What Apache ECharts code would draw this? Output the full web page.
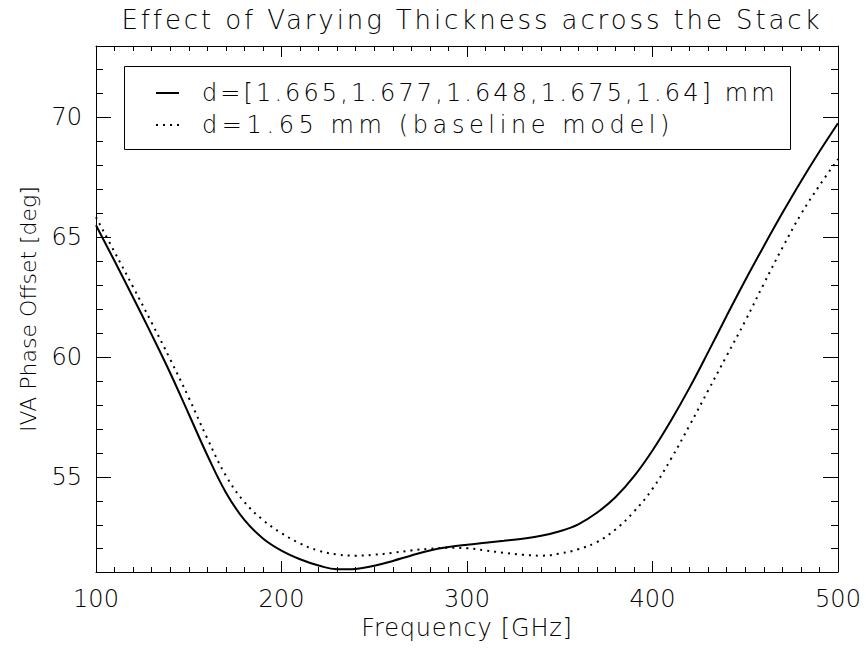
<!DOCTYPE html>
<html>
<head>
<meta charset="utf-8">
<script src="https://cdn.jsdelivr.net/npm/echarts@6/dist/echarts.min.js"></script>
<style>
html,body{margin:0;padding:0;background:#fff;}
#c{width:866px;height:652px;}
</style>
</head>
<body>
<div id="c"></div>
<script>
// ---- data ----
const titleText = 'Effect of Varying Thickness across the Stack';
const xName = 'Frequency [GHz]';
const yName = 'IVA Phase Offset [deg]';
const seriesNames = ['d=[1.665,1.677,1.648,1.675,1.64] mm', 'd=1.65 mm (baseline model)'];
const freq = [100,110,120,130,140,150,160,170,180,190,200,210,220,230,240,250,260,270,280,290,300,
              310,320,330,340,350,360,370,380,390,400,410,420,430,440,450,460,470,480,490,500];
const variedThickness = [65.49,64.0,62.48,60.93,59.33,57.62,55.9,54.35,53.2,52.43,51.92,51.56,51.3,51.14,51.16,51.29,51.49,51.72,51.93,52.07,52.17,
                         52.25,52.33,52.42,52.54,52.73,53.02,53.5,54.15,55.02,56.1,57.35,58.72,60.2,61.72,63.2,64.62,66.0,67.32,68.57,69.75];
const baselineModel = [65.83,64.38,62.92,61.43,59.9,58.3,56.6,55.05,53.95,53.2,52.65,52.22,51.92,51.76,51.71,51.75,51.83,51.93,52.0,52.04,52.02,
                       51.93,51.83,51.75,51.71,51.8,51.98,52.28,52.8,53.55,54.5,55.75,57.15,58.6,60.05,61.5,63.05,64.55,65.95,67.15,68.25];
const xRange = [100, 500];
const yRange = [51.03, 72.97];

// ---- chart ----
const FONT = 'DejaVu Sans';
const chart = echarts.init(document.getElementById('c'), null, {renderer: 'svg'});
const axisCommon = {
  type: 'value',
  axisLine: {show: true, onZero: false, lineStyle: {color: '#000', width: 1}},
  splitLine: {show: false},
  axisLabel: {show: false}
};
function xAxisDef(pos) {
  return Object.assign({}, axisCommon, {
    position: pos, min: xRange[0], max: xRange[1], splitNumber: 4,
    axisTick: {show: true, inside: true, length: 11, lineStyle: {color: '#000', width: 1}},
    minorTick: {show: true, splitNumber: 10, length: 5, lineStyle: {color: '#000', width: 1}}
  });
}
function yAxisDef(pos) {
  return Object.assign({}, axisCommon, {
    position: pos, min: yRange[0], max: yRange[1], splitNumber: 4,
    axisTick: {show: true, inside: true, length: 15, lineStyle: {color: '#000', width: 1}},
    minorTick: {show: true, splitNumber: 5, length: 7, lineStyle: {color: '#000', width: 1}}
  });
}
const xb = xAxisDef('bottom');
xb.axisLabel = {show: true, fontSize: 24, fontFamily: FONT, fontWeight: 200, color: '#000', margin: 15};
xb.name = xName; xb.nameLocation = 'middle'; xb.nameGap = 43;
xb.nameTextStyle = {fontSize: 24, fontFamily: FONT, fontWeight: 200, color: '#000'};
const xt = xAxisDef('top');
const yl = yAxisDef('left');
yl.axisLabel = {show: true, fontSize: 24, fontFamily: FONT, fontWeight: 200, color: '#000', margin: 14,
                showMinLabel: false, showMaxLabel: false};
yl.name = yName; yl.nameLocation = 'middle'; yl.nameGap = 57;
yl.nameTextStyle = {fontSize: 22, fontFamily: FONT, fontWeight: 200, color: '#000'};
const yr = yAxisDef('right');

const option = {
  animation: false,
  backgroundColor: '#fff',
  title: {text: titleText, left: 467, textAlign: 'center', top: 2,
          textStyle: {fontSize: 26, fontFamily: FONT, fontWeight: 200, color: '#000'}},
  grid: {left: 96, right: 28, top: 46, bottom: 80, containLabel: false},
  xAxis: [xb, xt],
  yAxis: [yl, yr],
  legend: {
    orient: 'vertical', left: 150, top: 76, itemWidth: 23, itemHeight: 14, itemGap: 8,
    selectedMode: false,
    itemStyle: {color: 'rgba(0,0,0,0)', borderWidth: 0, opacity: 0},
    textStyle: {fontSize: 24, fontFamily: FONT, fontWeight: 200, color: '#000', padding: [0, 0, 0, 18]},
    data: seriesNames
  },
  graphic: [{type: 'rect', left: 122, top: 64, shape: {width: 666, height: 83},
             style: {fill: 'none', stroke: '#000', lineWidth: 1}, silent: true}],
  series: [
    {type: 'line', name: seriesNames[0], xAxisIndex: 0, yAxisIndex: 0,
     data: freq.map((f, i) => [f, variedThickness[i]]),
     showSymbol: false, symbol: 'none', smooth: 0.4, silent: true,
     itemStyle: {color: '#000'},
     lineStyle: {color: '#000', width: 2, type: 'solid'}},
    {type: 'line', name: seriesNames[1], xAxisIndex: 0, yAxisIndex: 0,
     data: freq.map((f, i) => [f, baselineModel[i]]),
     showSymbol: false, symbol: 'none', smooth: 0.4, silent: true,
     itemStyle: {color: '#000'},
     lineStyle: {color: '#000', width: 2, type: [2, 5]}}
  ]
};
chart.setOption(option);

// widen the lettering to resemble the wide vector font of the original
const spacing = {};
spacing[titleText] = 2.9;
spacing[seriesNames[0]] = 3.1;
spacing[seriesNames[1]] = 4.6;
spacing[xName] = 0.8;
document.querySelectorAll('#c svg text').forEach(t => {
  const s = spacing[t.textContent];
  if (s) t.setAttribute('letter-spacing', s + 'px');
});
</script>
</body>
</html>
